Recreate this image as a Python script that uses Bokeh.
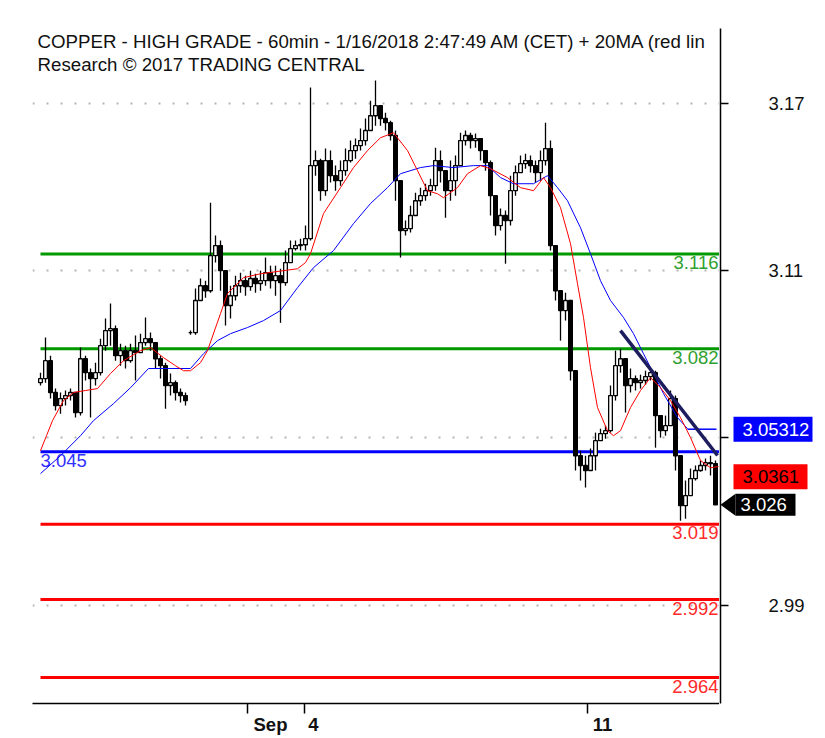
from bokeh.plotting import figure
from bokeh.layouts import row
from bokeh.models import (Range1d, FixedTicker, Label, Grid, ColumnDataSource)
from bokeh.core.properties import value
from bokeh.embed import file_html
from bokeh.resources import INLINE

FONT = "Liberation Sans"

# ---------------- data (hourly bars) ----------------
closes = [
    3.0713, 3.0777, 3.0663, 3.0616, 3.0641, 3.0652, 3.0663, 3.0591, 3.0784, 3.0734,
    3.0713, 3.0734, 3.0831, 3.0885, 3.0892, 3.0795, 3.0813, 3.0777, 3.0813, 3.0806,
    3.0842, 3.0856, 3.0842, 3.0784, 3.0759, 3.0688, 3.0698, 3.0663, 3.0652, 3.0634,
    3.0878, 3.0993, 3.1046, 3.1028, 3.1154, 3.1190, 3.1100, 3.0975, 3.1010, 3.1046,
    3.1064, 3.1043, 3.1072, 3.1054, 3.1064, 3.1093, 3.1064, 3.1082, 3.1057, 3.1129,
    3.1179, 3.1190, 3.1193, 3.1215,
    3.1477, 3.1495, 3.1387, 3.1495, 3.1441, 3.1423, 3.1459, 3.1495, 3.1531, 3.1549,
    3.1567, 3.1603, 3.1656, 3.1692, 3.1646, 3.1631, 3.1585, 3.1423, 3.1244, 3.1251,
    3.1298, 3.1351, 3.1369, 3.1387, 3.1405, 3.1495, 3.1459, 3.1387, 3.1423, 3.1477,
    3.1567, 3.1585, 3.1567, 3.1574, 3.1531, 3.1488, 3.1369, 3.1262, 3.1298, 3.1280,
    3.1387, 3.1452, 3.1484, 3.1495, 3.1477, 3.1452, 3.1495, 3.1538, 3.1190,
    3.1028, 3.0957, 3.0993, 3.0741, 3.0436, 3.0401, 3.0383, 3.0436, 3.0490, 3.0515,
    3.0526, 3.0652, 3.0759, 3.0784, 3.0688, 3.0713, 3.0698, 3.0706, 3.0720, 3.0734,
    3.0580, 3.0526, 3.0544, 3.0641, 3.0436, 3.0257, 3.0293, 3.0354, 3.0383, 3.0401,
    3.0411, 3.0408, 3.0260,
]
opens = [
    3.0698, 3.0713, 3.0777, 3.0663, 3.0616, 3.0641, 3.0652, 3.0663, 3.0591, 3.0784,
    3.0734, 3.0713, 3.0734, 3.0831, 3.0885, 3.0892, 3.0795, 3.0813, 3.0777, 3.0813,
    3.0806, 3.0842, 3.0856, 3.0842, 3.0784, 3.0759, 3.0688, 3.0698, 3.0663, 3.0652,
    3.0878, 3.0878, 3.0993, 3.1046, 3.1028, 3.1154, 3.1190, 3.1100, 3.0975, 3.1010,
    3.1046, 3.1064, 3.1043, 3.1072, 3.1054, 3.1064, 3.1093, 3.1064, 3.1082, 3.1057,
    3.1129, 3.1179, 3.1190, 3.1193,
    3.1215, 3.1477, 3.1495, 3.1387, 3.1495, 3.1441, 3.1423, 3.1459, 3.1495, 3.1531,
    3.1549, 3.1567, 3.1603, 3.1656, 3.1692, 3.1646, 3.1631, 3.1585, 3.1423, 3.1244,
    3.1251, 3.1298, 3.1351, 3.1369, 3.1387, 3.1405, 3.1495, 3.1459, 3.1387, 3.1423,
    3.1477, 3.1567, 3.1585, 3.1567, 3.1574, 3.1531, 3.1488, 3.1369, 3.1262, 3.1298,
    3.1280, 3.1387, 3.1452, 3.1484, 3.1495, 3.1477, 3.1452, 3.1495, 3.1538,
    3.1190, 3.1028, 3.0957, 3.0993, 3.0741, 3.0436, 3.0401, 3.0383, 3.0436, 3.0490,
    3.0515, 3.0526, 3.0652, 3.0759, 3.0784, 3.0688, 3.0713, 3.0698, 3.0706, 3.0720,
    3.0734, 3.0580, 3.0526, 3.0544, 3.0641, 3.0436, 3.0257, 3.0293, 3.0354, 3.0383,
    3.0401, 3.0411, 3.0408,
]
highs = [
    3.0734, 3.0860, 3.0795, 3.0677, 3.0663, 3.0670, 3.0677, 3.0663, 3.0824, 3.0795,
    3.0749, 3.0770, 3.0856, 3.0928, 3.0982, 3.0903, 3.0838, 3.0831, 3.0838, 3.0867,
    3.0874, 3.0932, 3.0878, 3.0831, 3.0795, 3.0770, 3.0731, 3.0706, 3.0677, 3.0663,
    3.0885, 3.1036, 3.1072, 3.1064, 3.1344, 3.1226, 3.1208, 3.1046, 3.1046, 3.1082,
    3.1093, 3.1082, 3.1100, 3.1089, 3.1100, 3.1147, 3.1118, 3.1118, 3.1107, 3.1172,
    3.1208, 3.1208, 3.1215, 3.1262,
    3.1757, 3.1531, 3.1502, 3.1538, 3.1531, 3.1477, 3.1495, 3.1538, 3.1567, 3.1574,
    3.1610, 3.1646, 3.1710, 3.1782, 3.1692, 3.1667, 3.1638, 3.1603, 3.1351, 3.1280,
    3.1333, 3.1380, 3.1398, 3.1412, 3.1430, 3.1541, 3.1531, 3.1459, 3.1495, 3.1513,
    3.1595, 3.1603, 3.1595, 3.1592, 3.1567, 3.1513, 3.1495, 3.1333, 3.1323, 3.1316,
    3.1441, 3.1477, 3.1513, 3.1520, 3.1513, 3.1495, 3.1531, 3.1631, 3.1567,
    3.1190, 3.1010, 3.1021, 3.0993, 3.0741, 3.0454, 3.0436, 3.0462, 3.0519, 3.0533,
    3.0544, 3.0688, 3.0813, 3.0820, 3.0777, 3.0749, 3.0724, 3.0727, 3.0741, 3.0749,
    3.0741, 3.0562, 3.0580, 3.0670, 3.0652, 3.0419, 3.0347, 3.0390, 3.0401, 3.0419,
    3.0426, 3.0436, 3.0419,
]
lows = [
    3.0688, 3.0698, 3.0641, 3.0598, 3.0587, 3.0616, 3.0634, 3.0573, 3.0580, 3.0706,
    3.0573, 3.0688, 3.0724, 3.0813, 3.0831, 3.0777, 3.0759, 3.0749, 3.0770, 3.0706,
    3.0813, 3.0831, 3.0813, 3.0749, 3.0713, 3.0605, 3.0652, 3.0634, 3.0627, 3.0616,
    3.0870, 3.0870, 3.0993, 3.1003, 3.1021, 3.1129, 3.1028, 3.0903, 3.0928, 3.0993,
    3.1021, 3.1010, 3.1028, 3.1021, 3.1028, 3.1046, 3.1036, 3.1010, 3.0913, 3.1046,
    3.1129, 3.1172, 3.1172, 3.1172,
    3.1208, 3.1441, 3.1351, 3.1369, 3.1416, 3.1387, 3.1405, 3.1441, 3.1488, 3.1502,
    3.1531, 3.1549, 3.1603, 3.1620, 3.1620, 3.1603, 3.1567, 3.1351, 3.1147, 3.1226,
    3.1237, 3.1298, 3.1333, 3.1351, 3.1369, 3.1387, 3.1416, 3.1290, 3.1351, 3.1369,
    3.1495, 3.1549, 3.1538, 3.1541, 3.1495, 3.1459, 3.1298, 3.1226, 3.1244, 3.1125,
    3.1262, 3.1369, 3.1452, 3.1466, 3.1452, 3.1416, 3.1423, 3.1477, 3.1172,
    3.0993, 3.0849, 3.0921, 3.0706, 3.0383, 3.0347, 3.0322, 3.0383, 3.0383, 3.0490,
    3.0497, 3.0519, 3.0634, 3.0734, 3.0591, 3.0663, 3.0670, 3.0677, 3.0691, 3.0706,
    3.0465, 3.0501, 3.0508, 3.0598, 3.0383, 3.0203, 3.0210, 3.0311, 3.0347, 3.0379,
    3.0383, 3.0365, 3.0261,
]
bar_index = list(range(len(closes)))

# 20-period moving average (red), read at bar positions
ma20_x = [0, 1.2, 2.4, 4.6, 6.6, 9, 11.4, 14, 16.6, 20, 22, 24.6, 27, 28.6, 30, 32, 33.4,
          36, 37.4, 40.6, 44, 48.6, 51.4, 53, 54, 56.6, 60, 62.6, 65.4, 68, 70.6, 73.4,
          75.4, 77.4, 79.4, 80.6, 83.4, 85.4, 88, 90, 93.4, 96, 98.6, 100.6, 102, 104,
          106, 107.4, 108.6, 110, 111.4, 113.4, 114.6, 116, 118, 120, 122, 124, 126, 128,
          130, 132, 134, 135.6]
ma20 = [3.0454, 3.0508, 3.0562, 3.0634, 3.0663, 3.0670, 3.0677, 3.0731, 3.0777, 3.0813,
        3.0824, 3.0788, 3.0759, 3.0741, 3.0741, 3.0770, 3.0813, 3.0946, 3.1018, 3.1075,
        3.1089, 3.1100, 3.1107, 3.1129, 3.1161, 3.1305, 3.1398, 3.1470, 3.1531, 3.1577,
        3.1595, 3.1531, 3.1459, 3.1387, 3.1376, 3.1362, 3.1398, 3.1448, 3.1477, 3.1466,
        3.1434, 3.1398, 3.1387, 3.1434, 3.1398, 3.1326, 3.1197, 3.1053, 3.0932, 3.0752,
        3.0609, 3.0526, 3.0508, 3.0526, 3.0609, 3.0670, 3.0716, 3.0680, 3.0634, 3.0573,
        3.0501, 3.0419, 3.0393, 3.0397]

# 50-period moving average (blue)
ma50_x = [0, 4, 8, 10.6, 14.6, 18, 21.6, 30, 32.6, 35.4, 38, 41.4, 44.6, 48, 51.4, 54.6,
          58.6, 62.6, 66, 69.4, 72, 76, 78.6, 82.6, 86.6, 89.4, 92, 94.6, 98.6, 101.4,
          103.4, 105.4, 108, 110, 112, 114, 116.6, 118.6, 120.6, 122.6, 124.6, 127.4, 129.4]
ma50 = [3.0372, 3.0436, 3.0508, 3.0562, 3.0623, 3.0680, 3.0749, 3.0749, 3.0802, 3.0849,
        3.0874, 3.0896, 3.0921, 3.0957, 3.1039, 3.1111, 3.1172, 3.1269, 3.1341, 3.1398,
        3.1448, 3.1470, 3.1477, 3.1470, 3.1477, 3.1477, 3.1434, 3.1412, 3.1412, 3.1441,
        3.1398, 3.1351, 3.1254, 3.1161, 3.1064, 3.0993, 3.0932, 3.0874, 3.0802, 3.0731,
        3.0659, 3.0573, 3.0533]

# support / resistance levels
levels_green = [3.116, 3.082]
levels_blue = [3.045]
levels_red = [3.019, 2.992, 2.964]

# down trend line
trend_x = [116, 135.4]
trend_y = [3.0885, 3.0437]

y_ticks = [2.99, 3.05, 3.11, 3.17]
date_ticks = [41.4, 52.8, 109.4]
date_labels = ["Sep", "4", "11"]

ma50_last = 3.05312
ma20_last = 3.0361
last_price = 3.026

title_1 = "COPPER - HIGH GRADE - 60min - 1/16/2018 2:47:49 AM (CET) + 20MA (red lin"
title_2 = "Research \u00a9 2017 TRADING CENTRAL"

# ---------------- main chart ----------------
X0, X1 = -1.6, 135.8
Y0, Y1 = 2.9547, 3.1969
FRAME_H = 675
PX = (Y1 - Y0) / FRAME_H      # price per screen pixel
HEIGHT = 737
y_range = Range1d(Y0, Y1)

p = figure(width=719, height=HEIGHT, x_range=Range1d(X0, X1), y_range=y_range,
           y_axis_location=None, output_backend="svg", toolbar_location=None,
           min_border_left=32, min_border_top=28, min_border_right=0, min_border_bottom=34)
p.outline_line_color = None
p.background_fill_color = "white"
p.border_fill_color = "white"
for g in p.grid:
    g.visible = False

p.add_layout(Grid(dimension=1, ticker=FixedTicker(ticks=y_ticks), grid_line_color="#b4b4b4",
                  grid_line_width=2, grid_line_dash="2 12"))

# bottom date axis: ticks are minor ticks, labels sit to the right of them
label_shift = [4.6, 1.8, 3.0]
label_pos = [round(t + s, 2) for t, s in zip(date_ticks, label_shift)]
p.xaxis.ticker = FixedTicker(ticks=label_pos, minor_ticks=date_ticks)
p.xaxis.major_label_overrides = {pos: lab for pos, lab in zip(label_pos, date_labels)}
p.xaxis.major_tick_out = 0
p.xaxis.major_tick_in = 0
p.xaxis.minor_tick_out = 10
p.xaxis.minor_tick_in = 0
p.xaxis.minor_tick_line_width = 1.5
p.xaxis.minor_tick_line_color = "black"
p.xaxis.axis_line_width = 1.5
p.xaxis.axis_line_color = "black"
p.xaxis.major_label_standoff = 0
p.xaxis.major_label_text_font = FONT
p.xaxis.major_label_text_font_size = "18.5px"
p.xaxis.major_label_text_font_style = "bold"
p.xaxis.major_label_text_color = "#111111"

# level lines
for lv in levels_green:
    p.segment(x0=0, x1=X1 + 5, y0=lv, y1=lv, line_color="#009900", line_width=3)
for lv in levels_blue:
    p.segment(x0=0, x1=X1 + 5, y0=lv, y1=lv, line_color="#0000ff", line_width=3)
for lv in levels_red:
    p.segment(x0=0, x1=X1 + 5, y0=lv, y1=lv, line_color="#ff0000", line_width=3)

lvl_font = dict(text_font=value(FONT), text_font_size="18.5px", text_baseline="top", y_offset=2)
xr = 135.6
p.text(x=[xr] * len(levels_green), y=levels_green, text=[f"{v:.3f}" for v in levels_green],
       text_align="right", text_color="#2f9f2f", **lvl_font)
p.text(x=[0] * len(levels_blue), y=levels_blue, text=[f"{v:.3f}" for v in levels_blue],
       text_align="left", text_color="#3030ff", **lvl_font)
p.text(x=[xr] * len(levels_red), y=levels_red, text=[f"{v:.3f}" for v in levels_red],
       text_align="right", text_color="#ff2a2a", **lvl_font)

# candles
up = [c >= o for o, c in zip(opens, closes)]
src = ColumnDataSource(dict(
    x=bar_index, o=opens, c=closes, h=highs, l=lows,
    top=[max(o, c) for o, c in zip(opens, closes)],
    bot=[min(o, c) for o, c in zip(opens, closes)],
    fill=["white" if u else "black" for u in up],
))
p.segment(x0="x", x1="x", y0="h", y1="l", source=src, line_color="black", line_width=1.3)
p.vbar(x="x", top="top", bottom="bot", width=0.74, source=src,
       fill_color="fill", line_color="black", line_width=1.3)

# moving averages
p.line(ma50_x, ma50, line_color="#0000ff", line_width=1)
p.line(ma20_x, ma20, line_color="#ff0000", line_width=1)
p.segment(x0=[129.4], x1=[135.2], y0=[ma50_last], y1=[ma50_last], line_color="#0000ff", line_width=1.5)

# trend line
p.line(trend_x, trend_y, line_color="#1c1c5e", line_width=3.5)

# title text
p.add_layout(Label(x=-0.6, y=3.1961, text=title_1, text_font=FONT, text_font_size="18.7px",
                   text_baseline="top", text_align="left", text_color="#111111"))
p.add_layout(Label(x=-0.6, y=3.1877, text=title_2, text_font=FONT, text_font_size="18.7px",
                   text_baseline="top", text_align="left", text_color="#111111"))

# ---------------- price scale panel (shares the price range) ----------------
q = figure(width=94, height=HEIGHT, x_range=Range1d(0, 93), y_range=y_range,
           x_axis_location=None, y_axis_location="left", output_backend="svg",
           toolbar_location=None, min_border_left=1, min_border_right=0,
           min_border_top=28, min_border_bottom=34)
q.outline_line_color = None
q.background_fill_color = "white"
q.border_fill_color = "white"
for g in q.grid:
    g.visible = False
q.yaxis.ticker = FixedTicker(ticks=y_ticks)
q.yaxis.major_label_overrides = {t: "" for t in y_ticks}
q.yaxis.major_tick_out = 0
q.yaxis.major_tick_in = 8
q.yaxis.minor_tick_out = 0
q.yaxis.minor_tick_in = 0
q.yaxis.major_tick_line_width = 1.5
q.yaxis.major_tick_line_color = "black"
q.yaxis.axis_line_width = 1.5
q.yaxis.axis_line_color = "black"
q.yaxis.major_label_standoff = 0

# price labels (skip the ones hidden under a price tag)
tag_vals = [ma50_last, ma20_last, last_price]
shown = [t for t in y_ticks if all(abs(t - v) > 12 * PX for v in tag_vals)]
q.text(x=[48] * len(shown), y=shown, text=[f"{t:.2f}" for t in shown],
       text_font=value(FONT), text_font_size="18.5px", text_baseline="middle",
       text_align="left", text_color="#111111")

# price tags
tag_font = dict(text_font=value(FONT), text_font_size="18.5px", text_baseline="middle",
                text_align="left")
q.quad(left=[13], right=[92], bottom=[ma50_last - 12.5 * PX], top=[ma50_last + 12.5 * PX],
       fill_color="#0000ff", line_color=None)
q.text(x=[22], y=[ma50_last], text=[f"{ma50_last:.5f}"], text_color="white", **tag_font)

q.quad(left=[13], right=[87], bottom=[ma20_last - 12.5 * PX], top=[ma20_last + 12.5 * PX],
       fill_color="#ff0000", line_color=None)
q.text(x=[22], y=[ma20_last], text=[f"{ma20_last:.4f}"], text_color="black", **tag_font)

q.patch(x=[0, 15, 15], y=[last_price, last_price + 11 * PX, last_price - 11 * PX],
        fill_color="black", line_color=None)
q.quad(left=[15], right=[75], bottom=[last_price - 11 * PX], top=[last_price + 11 * PX],
       fill_color="black", line_color=None)
q.text(x=[20], y=[last_price], text=[f"{last_price:.3f}"], text_color="white", **tag_font)

layout = row(p, q, spacing=0)
open("out.html", "w").write(file_html(layout, INLINE))
